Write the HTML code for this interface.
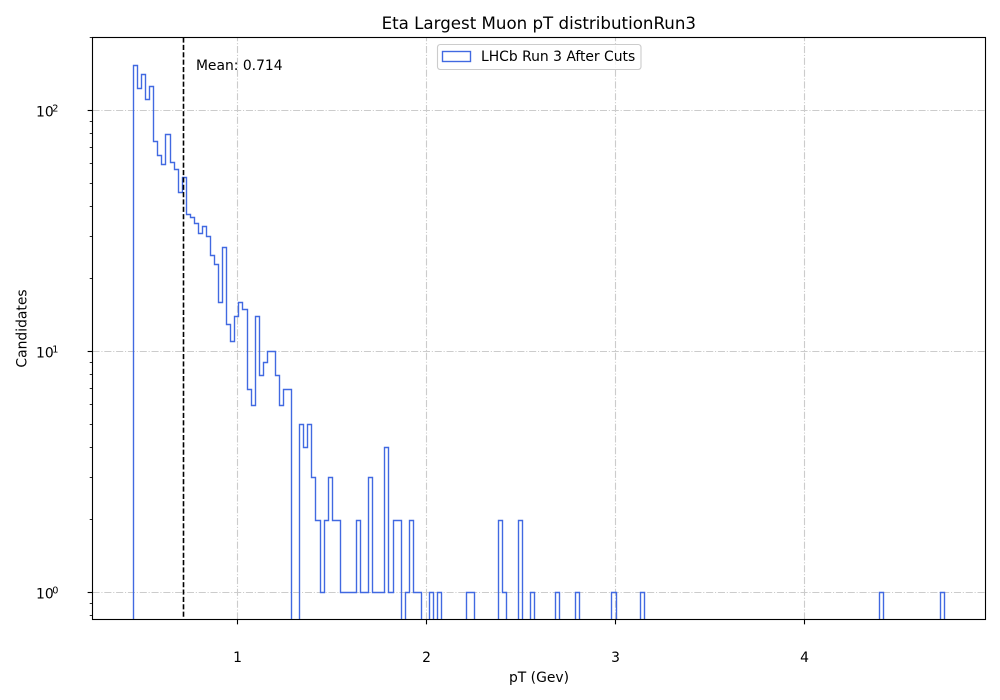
<!DOCTYPE html>
<html lang="en">
<head>
<meta charset="utf-8">
<title>Eta Largest Muon pT distributionRun3</title>
<style>
  html, body { margin: 0; padding: 0; background: #ffffff; }
  body { width: 1000px; height: 700px; overflow: hidden; }
  svg { display: block; }
  text { font-family: "DejaVu Sans", "Liberation Sans", sans-serif; fill: #000000; }
</style>
</head>
<body>
<svg id="chart" xmlns="http://www.w3.org/2000/svg" width="1000" height="700" viewBox="0 0 1000 700">
  <defs>
    <clipPath id="plot-clip"><rect x="93" y="38" width="892" height="581"></rect></clipPath>
  </defs>
  <rect x="0" y="0" width="1000" height="700" fill="#ffffff"></rect>
  <g id="grid"></g>
  <g id="series" clip-path="url(#plot-clip)"></g>
  <g id="ticks"></g>
  <g id="tick-labels"></g>
  <rect x="92.5" y="37.5" width="893" height="582" fill="none" stroke="#000000" stroke-width="1.11"></rect>
  <text x="538.8" y="29" font-size="16.67" text-anchor="middle">Eta Largest Muon pT distributionRun3</text>
  <text x="539" y="682" font-size="13.89" text-anchor="middle">pT (Gev)</text>
  <text transform="translate(26.5 328.5) rotate(-90)" font-size="13.89" text-anchor="middle">Candidates</text>
  <g>
    <rect x="437.5" y="44.5" rx="2.8" ry="2.8" width="203.5" height="25" fill="#ffffff" fill-opacity="0.8" stroke="#cccccc" stroke-width="1.11"></rect>
    <rect x="442.5" y="51.5" width="28" height="10" fill="none" stroke="#4169e1" stroke-width="1.39"></rect>
    <text x="481" y="61" font-size="13.89">LHCb Run 3 After Cuts</text>
  </g>
</svg>
<script>
const binMin = 0.4503;
const binMax = 4.7413;
const binCounts = [
  155,124,141,111,126,75,65,60,80,61,
  57,46,53,37,36,34,31,33,30,25,
  23,16,27,13,11,14,16,15,7,6,
  14,8,9,10,10,8,6,7,7,0,
  0,5,4,5,3,2,1,2,3,2,
  2,1,1,1,1,2,1,1,3,1,
  1,1,4,1,2,2,0,1,2,1,
  1,0,0,1,0,1,0,0,0,0,
  0,0,1,1,0,0,0,0,0,0,
  2,1,0,0,0,2,0,0,1,0,
  0,0,0,0,1,0,0,0,0,1,
  0,0,0,0,0,0,0,0,1,0,
  0,0,0,0,0,1,0,0,0,0,
  0,0,0,0,0,0,0,0,0,0,
  0,0,0,0,0,0,0,0,0,0,
  0,0,0,0,0,0,0,0,0,0,
  0,0,0,0,0,0,0,0,0,0,
  0,0,0,0,0,0,0,0,0,0,
  0,0,0,0,1,0,0,0,0,0,
  0,0,0,0,0,0,0,0,0,1
];
const meanValue = 0.714;
const meanLabel = "Mean: 0.714";
const xTickValues = [1, 2, 3, 4];
const xTickLabels = ["1", "2", "3", "4"];
const yDecades = [0, 1, 2];
const yDecadeLabels = ["0", "1", "2"];
const yMinorFactors = [2, 3, 4, 5, 6, 7, 8, 9];

const SVG_NS = "http://www.w3.org/2000/svg";
const plotLeft = 92.5, plotRight = 985.5, plotTop = 37.5, plotBottom = 619.5;

function xScale(v) { return 237.4 + 189 * (v - 1); }
function yScale(v) { return 592.5 - 241 * Math.log10(v); }
function snap(p) { return Math.floor(p) + 0.5; }

function make(tag, attrs, parent) {
  const el = document.createElementNS(SVG_NS, tag);
  for (const k in attrs) el.setAttribute(k, attrs[k]);
  parent.appendChild(el);
  return el;
}

const gridLayer = document.getElementById("grid");
const tickLayer = document.getElementById("ticks");
const labelLayer = document.getElementById("tick-labels");
const seriesLayer = document.getElementById("series");
const gridStyle = { stroke: "#cccccc", "stroke-width": 1.11, "stroke-dasharray": "7.1 1.8 1.1 1.8", fill: "none" };

xTickValues.forEach(function (v, i) {
  const x = snap(xScale(v));
  const g = make("line", Object.assign({ x1: x, x2: x, y1: plotBottom, y2: plotTop }, gridStyle), gridLayer);
  
  
  const t = make("line", { x1: x, x2: x, y1: plotBottom, y2: plotBottom + 4.86, stroke: "#000000", "stroke-width": 1.11 }, tickLayer);
  
  
  const l = make("text", { x: x, y: 662, "font-size": 13.89, "text-anchor": "middle" }, labelLayer);
  l.textContent = xTickLabels[i];
  
  
});

yDecades.forEach(function (d, i) {
  const base = Math.pow(10, d);
  const y = snap(yScale(base));
  const g = make("line", Object.assign({ x1: plotLeft, x2: plotRight, y1: y, y2: y }, gridStyle), gridLayer);
  
  
  const t = make("line", { x1: plotLeft, x2: plotLeft - 4.86, y1: y, y2: y, stroke: "#000000", "stroke-width": 1.11 }, tickLayer);
  
  
  const l = make("text", { x: 36, y: y + 6, "font-size": 13.89 }, labelLayer);
  l.textContent = "10";
  
  
  const s = make("text", { x: 52.3, y: y + 1.2, "font-size": 9.72 }, labelLayer);
  s.textContent = yDecadeLabels[i];
  
  
});

[-1, 0, 1, 2].forEach(function (d) {
  yMinorFactors.forEach(function (f) {
    const raw = yScale(f * Math.pow(10, d));
    if (raw < plotTop || raw > plotBottom) return;
    const y = snap(raw);
    const t = make("line", { x1: plotLeft, x2: plotLeft - 2.78, y1: y, y2: y, stroke: "#000000", "stroke-width": 0.83 }, tickLayer);
    
    
  });
});

const binWidth = (binMax - binMin) / binCounts.length;
let histPath = "M" + snap(xScale(binMin)) + " " + (plotBottom + 5);
binCounts.forEach(function (c, i) {
  const left = snap(xScale(binMin + i * binWidth));
  const right = snap(xScale(binMin + (i + 1) * binWidth));
  const y = c > 0 ? snap(yScale(c) + 0.4) : plotBottom + 5;
  histPath += " L" + left + " " + y + " L" + right + " " + y;
});
histPath += " L" + snap(xScale(binMax)) + " " + (plotBottom + 5);
const hist = make("path", { d: histPath, fill: "none", stroke: "#4169e1", "stroke-width": 1.39, "stroke-linejoin": "miter" }, seriesLayer);



const meanX = snap(xScale(meanValue));
const meanLine = make("line", { x1: meanX, x2: meanX, y1: plotTop, y2: plotBottom, stroke: "#000000", "stroke-width": 1.6, "stroke-dasharray": "5.14 2.22" }, seriesLayer);



const meanText = make("text", { x: xScale(meanValue) + 12.6, y: 70, "font-size": 13.89 }, labelLayer);
meanText.textContent = meanLabel;


</script>
</body>
</html>
